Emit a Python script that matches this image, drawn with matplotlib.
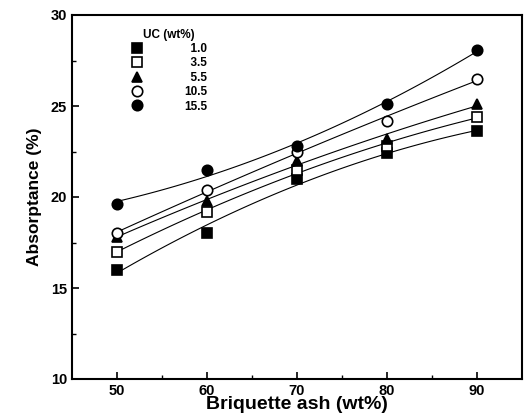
import matplotlib
matplotlib.use("Agg")
import matplotlib.pyplot as plt
import numpy as np

plt.rcParams['font.family'] = ['Liberation Sans', 'DejaVu Sans']
plt.rcParams['font.weight'] = 'bold'

ash = [50, 60, 70, 80, 90]
uc_labels = ['1.0', '3.5', '5.5', '10.5', '15.5']
uc_1_0 = [16.0, 18.0, 21.0, 22.4, 23.6]
uc_3_5 = [17.0, 19.2, 21.5, 22.8, 24.4]
uc_5_5 = [17.8, 19.8, 22.0, 23.2, 25.1]
uc_10_5 = [18.0, 20.4, 22.5, 24.2, 26.5]
uc_15_5 = [19.6, 21.5, 22.8, 25.1, 28.1]

series = [uc_1_0, uc_3_5, uc_5_5, uc_10_5, uc_15_5]
markers = ['s', 's', '^', 'o', 'o']
fills = ['black', 'white', 'black', 'white', 'black']

fig = plt.figure(figsize=(5.3, 4.2), dpi=100)
ax = fig.add_axes([72/530, 1-379/420, 450/530, 364/420])

xs = np.linspace(50, 90, 100)
for vals, m, fc, lab in zip(series, markers, fills, uc_labels):
    # smooth quadratic fit through the points
    coef = np.polyfit(ash, vals, 2)
    ax.plot(xs, np.polyval(coef, xs), color='black', lw=0.8)
    # right-align legend numbers with figure spaces
    ax.plot(ash, vals, linestyle='none', marker=m, ms=7.5, mfc=fc,
            mec='black', mew=1.2, label='\u2007' * (4 - len(lab)) + lab)

ax.set_xlim(45, 95)
ax.set_ylim(10, 30)
ax.set_xticks([50, 60, 70, 80, 90])
ax.set_yticks([10, 15, 20, 25, 30])
ax.set_xticks([55, 65, 75, 85], minor=True)
ax.set_yticks([12.5, 17.5, 22.5, 27.5], minor=True)
ax.tick_params(direction='in', which='major', length=5, width=1.2, labelsize=10.5)
ax.tick_params(direction='in', which='minor', length=3, width=1)
for s in ax.spines.values():
    s.set_linewidth(1.5)

ax.set_xlabel('Briquette ash (wt%)', fontsize=14, fontweight='bold', labelpad=-1)
ax.set_ylabel('Absorptance (%)', fontsize=12.5, fontweight='bold', labelpad=6)

leg = ax.legend(title='UC (wt%)', loc='upper left', bbox_to_anchor=(0.11, 0.985),
                frameon=False, fontsize=8.5, title_fontsize=8.5, handlelength=1.2,
                handletextpad=3.4, labelspacing=0.2, borderpad=0.2)
leg.get_title().set_fontweight('bold')

fig.savefig('out.png', dpi=100)
